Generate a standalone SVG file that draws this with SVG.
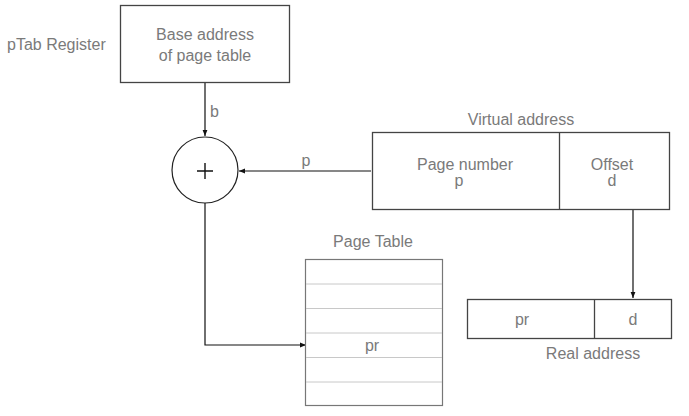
<svg xmlns="http://www.w3.org/2000/svg" width="689" height="416" viewBox="0 0 689 416">
<style>
text{font-family:"Liberation Sans",Arial,sans-serif;font-size:16px;fill:#7a7a7a;text-anchor:middle}
.lbl{text-anchor:start}
.box{fill:#fff;stroke:#444;stroke-width:1.3}
.row{stroke:#c8c8c8;stroke-width:1}
.conn{fill:none;stroke:#111;stroke-width:1.2}
</style>
<defs>
<marker id="ah" viewBox="0 0 10 10" refX="10" refY="5" markerWidth="6" markerHeight="6" orient="auto" markerUnits="userSpaceOnUse">
<path d="M0,1 L10,5 L0,9 z" fill="#111"/>
</marker>
</defs>
<g id="connectors">
<path class="conn" d="M205,82 V136" marker-end="url(#ah)"/>
<path class="conn" d="M371,171 H239" marker-end="url(#ah)"/>
<path class="conn" d="M205,203 V345 H306" marker-end="url(#ah)"/>
<path class="conn" d="M633,210 V298" marker-end="url(#ah)"/>
<text class="lbl" x="210" y="117">b</text>
<text x="306" y="166">p</text>
</g>
<g id="ptab">
<rect class="box" x="120.5" y="5.5" width="169" height="77"/>
<text x="205" y="40">Base address</text>
<text x="205" y="61">of page table</text>
<text class="lbl" x="7" y="50">pTab Register</text>
</g>
<g id="adder">
<circle cx="205" cy="170" r="33" fill="#fff" stroke="#222" stroke-width="1.2"/>
<path d="M197,171 H213 M205,163 V179" stroke="#111" stroke-width="1.4"/>
</g>
<g id="virtual">
<text x="521" y="125">Virtual address</text>
<rect class="box" x="372.5" y="132.5" width="297" height="77"/>
<line x1="559.5" y1="132.5" x2="559.5" y2="209.5" stroke="#444" stroke-width="1.3"/>
<text x="465" y="170">Page number</text>
<text x="459" y="186">p</text>
<text x="612" y="170">Offset</text>
<text x="612" y="186">d</text>
</g>
<g id="pagetable">
<text x="373" y="247">Page Table</text>
<rect x="305.5" y="259.5" width="137" height="146" fill="#fff" stroke="#777" stroke-width="1.2"/>
<line class="row" x1="306" y1="284" x2="442" y2="284"/>
<line class="row" x1="306" y1="308.5" x2="442" y2="308.5"/>
<line class="row" x1="306" y1="333" x2="442" y2="333"/>
<line class="row" x1="306" y1="357.5" x2="442" y2="357.5"/>
<line class="row" x1="306" y1="382" x2="442" y2="382"/>
<text x="372" y="351">pr</text>
</g>
<g id="real">
<rect class="box" x="467.5" y="299.5" width="204" height="39"/>
<line x1="594.5" y1="299.5" x2="594.5" y2="338.5" stroke="#444" stroke-width="1.3"/>
<text x="522" y="325">pr</text>
<text x="633" y="325">d</text>
<text x="593" y="359">Real address</text>
</g>
</svg>
